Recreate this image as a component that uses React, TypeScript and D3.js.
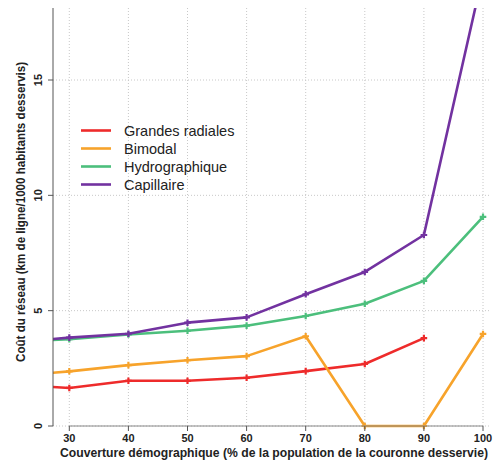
import React from "react";
import * as d3 from "d3";

const xValues = [25, 30, 40, 50, 60, 70, 80, 90, 100];
const grandesRadiales: (number | null)[] = [1.72, 1.65, 1.96, 1.96, 2.09, 2.38, 2.69, 3.81, null];
const bimodal: (number | null)[] = [2.26, 2.37, 2.64, 2.85, 3.03, 3.89, 0, 0, 3.99];
const hydrographique: (number | null)[] = [3.71, 3.76, 3.97, 4.13, 4.35, 4.77, 5.3, 6.29, 9.07];
const capillaire: (number | null)[] = [3.72, 3.83, 4.0, 4.48, 4.71, 5.71, 6.68, 8.28, 19.6];

const seriesNames = ["Grandes radiales", "Bimodal", "Hydrographique", "Capillaire"];
const seriesColors = ["#ee2b2b", "#f7a32b", "#4cbf7c", "#7232a0"];
const seriesValues = [grandesRadiales, bimodal, hydrographique, capillaire];

const xTicks = [30, 40, 50, 60, 70, 80, 90, 100];
const yTicks = [0, 5, 10, 15];

const xTitle = "Couverture démographique (% de la population de la couronne desservie)";
const yTitle = "Coût du réseau (km de ligne/1000 habitants desservis)";

export default function App() {
  const W = 494, H = 464;
  const x = d3.scaleLinear().domain([30, 100]).range([69.3, 483]);
  const y = d3.scaleLinear().domain([0, 15]).range([426, 80]);
  const left = 53, right = 490, top = 8, bottom = 426;
  const font = "Liberation Sans, Arial, sans-serif";
  const sym = d3.symbol().type(d3.symbolCross).size(24);

  const line = d3
    .line<[number, number | null]>()
    .defined((d) => d[1] !== null)
    .x((d) => x(d[0]))
    .y((d) => y(d[1] as number));

  const legendY = [130.5, 148.5, 166.5, 184.5];

  return (
    <svg width={W} height={H} style={{ position: "absolute", left: 0, top: 0, background: "#fff" }}>
      <defs>
        <clipPath id="plotclip">
          <rect x={left} y={top} width={right - left} height={bottom - top + 4} />
        </clipPath>
      </defs>
      {/* grid */}
      {xTicks.map((t) => (
        <line key={"gx" + t} x1={x(t)} x2={x(t)} y1={top} y2={bottom} stroke="#c8c8c8" strokeWidth={1} strokeDasharray="1,2" />
      ))}
      {yTicks.map((t) => (
        <line key={"gy" + t} x1={left} x2={right} y1={y(t)} y2={y(t)} stroke="#c8c8c8" strokeWidth={1} strokeDasharray="1,2" />
      ))}
      {/* series */}
      <g clipPath="url(#plotclip)">
        {seriesValues.map((vals, i) => {
          const pts = xValues.map((xv, j) => [xv, vals[j]] as [number, number | null]);
          return (
            <g key={"s" + i}>
              <path d={line(pts) || ""} fill="none" stroke={seriesColors[i]} strokeWidth={2.6} strokeLinejoin="round" />
              {pts
                .filter((p) => p[1] !== null && p[0] >= 30)
                .map((p, k) => (
                  <path
                    key={k}
                    d={sym() || ""}
                    transform={`translate(${x(p[0])},${y(p[1] as number)})`}
                    fill={seriesColors[i]}
                  />
                ))}
            </g>
          );
        })}
      </g>
      {/* y axis */}
      <line x1={left} x2={left} y1={top} y2={bottom} stroke="#555" strokeWidth={1} />
      {yTicks.map((t) => (
        <g key={"yt" + t}>
          <line x1={left - 5} x2={left} y1={y(t)} y2={y(t)} stroke="#555" strokeWidth={1} />
          <text
            transform={`translate(${42},${y(t)}) rotate(-90)`}
            textAnchor="middle"
            fontFamily={font}
            fontWeight="bold"
            fontSize={11}
            fill="#222"
          >
            {t}
          </text>
        </g>
      ))}
      {/* x axis */}
      <line x1={x(30)} x2={x(100)} y1={bottom} y2={bottom} stroke="#888" strokeWidth={1} />
      {xTicks.map((t) => (
        <g key={"xt" + t}>
          <line x1={x(t)} x2={x(t)} y1={bottom} y2={bottom + 5} stroke="#555" strokeWidth={1} />
          <text x={x(t)} y={442} textAnchor="middle" fontFamily={font} fontWeight="bold" fontSize={11} fill="#222">
            {t}
          </text>
        </g>
      ))}
      <text x={274} y={457} textAnchor="middle" fontFamily={font} fontWeight="bold" fontSize={12} fill="#222" textLength={428} lengthAdjust="spacingAndGlyphs">
        {xTitle}
      </text>
      <text
        transform={`translate(${25},${212}) rotate(-90)`}
        textAnchor="middle"
        fontFamily={font}
        fontWeight="bold"
        fontSize={13}
        fill="#222"
        textLength={300}
        lengthAdjust="spacingAndGlyphs"
      >
        {yTitle}
      </text>
      {/* legend */}
      {seriesNames.map((n, i) => (
        <g key={"lg" + i}>
          <line x1={81} x2={111} y1={legendY[i]} y2={legendY[i]} stroke={seriesColors[i]} strokeWidth={2.6} />
          <text x={124} y={legendY[i] + 5} fontFamily={font} fontSize={14.5} fill="#222">
            {n}
          </text>
        </g>
      ))}
    </svg>
  );
}
